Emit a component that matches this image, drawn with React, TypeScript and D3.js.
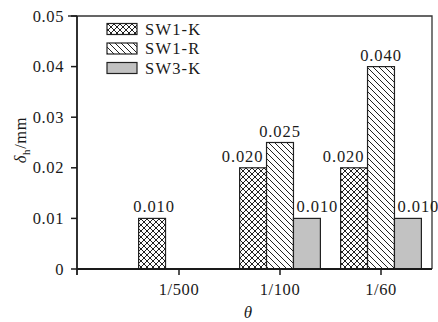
import { useEffect, useRef } from 'react';
import * as d3 from 'd3';

const categories = ['1/500', '1/100', '1/60'];
const seriesNames = ['SW1-K', 'SW1-R', 'SW3-K'];
const sw1k: (number | null)[] = [0.01, 0.02, 0.02];
const sw1r: (number | null)[] = [null, 0.025, 0.04];
const sw3k: (number | null)[] = [null, 0.01, 0.01];
const yTicks = [0, 0.01, 0.02, 0.03, 0.04, 0.05];

const width = 438;
const height = 322;
const FONT = "'Times New Roman', 'Liberation Serif', serif";

export default function App() {
  const svgRef = useRef<SVGSVGElement>(null);

  useEffect(() => {
    if (!svgRef.current) return;
    const svg = d3.select(svgRef.current);
    svg.selectAll('*').remove();

    const left = 77;
    const right = 432;
    const top = 16;
    const bottom = 269;

    const defs = svg.append('defs');
    // crosshatch pattern for SW1-K
    const cross = defs
      .append('pattern')
      .attr('id', 'cross')
      .attr('patternUnits', 'userSpaceOnUse')
      .attr('width', 6)
      .attr('height', 6);
    cross.append('rect').attr('width', 6).attr('height', 6).attr('fill', '#fff');
    cross
      .append('path')
      .attr('d', 'M-1,1 L1,-1 M0,6 L6,0 M5,7 L7,5 M-1,5 L1,7 M0,0 L6,6 M5,-1 L7,1')
      .attr('stroke', '#222')
      .attr('stroke-width', 1);
    // diagonal pattern for SW1-R
    const diag = defs
      .append('pattern')
      .attr('id', 'diag')
      .attr('patternUnits', 'userSpaceOnUse')
      .attr('width', 6)
      .attr('height', 6);
    diag.append('rect').attr('width', 6).attr('height', 6).attr('fill', '#fff');
    diag
      .append('path')
      .attr('d', 'M0,0 L6,6 M-1,5 L1,7 M5,-1 L7,1')
      .attr('stroke', '#222')
      .attr('stroke-width', 1);

    const fills = ['url(#cross)', 'url(#diag)', '#c2c2c2'];
    const values = [sw1k, sw1r, sw3k];

    const x = d3
      .scaleBand<string>()
      .domain(categories)
      .range([128.5, 431.5])
      .paddingInner(0.2)
      .paddingOuter(0.1);
    const xSub = d3.scaleBand<string>().domain(seriesNames).range([0, x.bandwidth()]);
    const y = d3.scaleLinear().domain([0, 0.05]).range([bottom, top]);

    // frame (top + right)
    svg
      .append('path')
      .attr('d', `M${left - 9},${top} L${right},${top} L${right},${bottom}`)
      .attr('fill', 'none')
      .attr('stroke', '#333')
      .attr('stroke-width', 1.3);

    // bars
    categories.forEach((cat, ci) => {
      const present = values.filter((v) => v[ci] != null).length;
      seriesNames.forEach((s, si) => {
        const v = values[si][ci];
        if (v == null) return;
        const bx = (x(cat) ?? 0) + (xSub(s) ?? 0);
        svg
          .append('rect')
          .attr('x', bx)
          .attr('y', y(v))
          .attr('width', xSub.bandwidth())
          .attr('height', bottom - y(v))
          .attr('fill', fills[si])
          .attr('stroke', '#222')
          .attr('stroke-width', 1.2);
        const shift = present > 1 ? (si - 1) * 10.5 : 2;
        svg
          .append('text')
          .attr('x', bx + xSub.bandwidth() / 2 + shift)
          .attr('y', y(v) - 6)
          .attr('text-anchor', 'middle')
          .attr('font-family', FONT)
          .attr('font-size', 16.5)
          .attr('letter-spacing', 0.9)
          .attr('fill', '#1a1a1a')
          .text(d3.format('.3f')(v));
      });
    });

    // y axis
    const yAxis = svg.append('g');
    yAxis
      .append('line')
      .attr('x1', left)
      .attr('x2', left)
      .attr('y1', top)
      .attr('y2', bottom + 6)
      .attr('stroke', '#1a1a1a')
      .attr('stroke-width', 1.8);
    yTicks.forEach((t) => {
      yAxis
        .append('line')
        .attr('x1', left - 6)
        .attr('x2', left)
        .attr('y1', y(t))
        .attr('y2', y(t))
        .attr('stroke', '#1a1a1a')
        .attr('stroke-width', 1.5);
      yAxis
        .append('text')
        .attr('x', left - 13)
        .attr('y', y(t) + 5.5)
        .attr('text-anchor', 'end')
        .attr('font-family', FONT)
        .attr('font-size', 16.5)
        .attr('letter-spacing', 0.6)
        .attr('fill', '#1a1a1a')
        .text(t === 0 ? '0' : d3.format('.2f')(t));
    });

    // x axis
    const xAxis = svg.append('g');
    xAxis
      .append('line')
      .attr('x1', left)
      .attr('x2', right)
      .attr('y1', bottom)
      .attr('y2', bottom)
      .attr('stroke', '#1a1a1a')
      .attr('stroke-width', 1.8);
    categories.forEach((c) => {
      const cx = (x(c) ?? 0) + x.bandwidth() / 2;
      xAxis
        .append('line')
        .attr('x1', cx)
        .attr('x2', cx)
        .attr('y1', bottom)
        .attr('y2', bottom + 6)
        .attr('stroke', '#1a1a1a')
        .attr('stroke-width', 1.5);
      xAxis
        .append('text')
        .attr('x', cx)
        .attr('y', bottom + 26)
        .attr('text-anchor', 'middle')
        .attr('font-family', FONT)
        .attr('font-size', 16.5)
        .attr('letter-spacing', 0.6)
        .attr('fill', '#1a1a1a')
        .text(c);
    });

    // axis titles
    svg
      .append('text')
      .attr('x', 248)
      .attr('y', 318)
      .attr('text-anchor', 'middle')
      .attr('font-family', FONT)
      .attr('font-style', 'italic')
      .attr('font-size', 17)
      .attr('fill', '#1a1a1a')
      .text('θ');
    const yt = svg
      .append('text')
      .attr('transform', 'translate(26,140) rotate(-90)')
      .attr('text-anchor', 'middle')
      .attr('font-family', FONT)
      .attr('font-size', 16.5)
      .attr('letter-spacing', 0.6)
      .attr('fill', '#1a1a1a');
    yt.append('tspan').attr('font-style', 'italic').text('δ');
    yt.append('tspan').attr('font-size', 11).attr('dy', 4).text('h');
    yt.append('tspan').attr('dy', -4).text('/mm');

    // legend
    seriesNames.forEach((s, i) => {
      const ly = 29 + i * 19.5;
      svg
        .append('rect')
        .attr('x', 107)
        .attr('y', ly - 5.5)
        .attr('width', 30)
        .attr('height', 11)
        .attr('fill', fills[i])
        .attr('stroke', '#222')
        .attr('stroke-width', 1.2);
      svg
        .append('text')
        .attr('x', 145)
        .attr('y', ly + 5.5)
        .attr('font-family', FONT)
        .attr('font-size', 16.5)
        .attr('letter-spacing', 1.2)
        .attr('fill', '#1a1a1a')
        .text(s);
    });
  }, []);

  return (
    <div style={{ position: 'fixed', left: 0, top: 0 }}>
      <svg ref={svgRef} width={width} height={height} style={{ display: 'block', background: '#fff' }} />
    </div>
  );
}
